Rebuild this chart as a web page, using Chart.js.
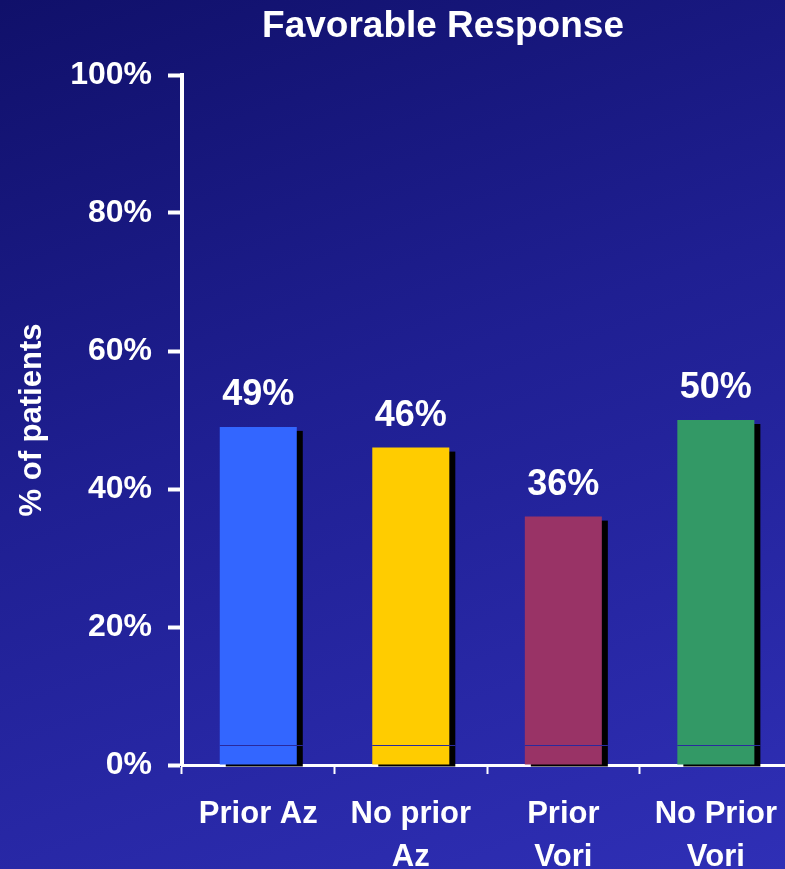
<!DOCTYPE html>
<html>
<head>
<meta charset="utf-8">
<script src="https://cdn.jsdelivr.net/npm/chart.js@4/dist/chart.umd.min.js"></script>
<style>
  html, body { margin: 0; padding: 0; overflow: hidden; }
  body {
    width: 785px; height: 869px;
    background: linear-gradient(160deg, #10106a 0%, #1f1f92 45%, #2f2fb6 100%);
  }
  canvas { display: block; }
</style>
</head>
<body>
<canvas id="myChart" width="796" height="869"></canvas>
<script>
// groups and favorable response rates (%)
const groups = [['Prior Az'], ['No prior', 'Az'], ['Prior', 'Vori'], ['No Prior', 'Vori']];
const favorable = [49, 46, 36, 50];
const yTickValues = [0, 20, 40, 60, 80, 100];
const chartTitle = 'Favorable Response';

const barColors = ['#3366ff', '#ffcc00', '#993366', '#339966'];
const FONT = "'Liberation Sans', Arial, sans-serif";

// title sits a bit right of the canvas centre
const titleText = {
  id: 'titleText',
  afterDraw(chart) {
    const ctx = chart.ctx;
    ctx.save();
    ctx.fillStyle = '#ffffff';
    ctx.font = 'bold 37px ' + FONT;
    ctx.textAlign = 'center';
    ctx.textBaseline = 'alphabetic';
    ctx.fillText(chartTitle, 443, 37);
    ctx.restore();
  }
};

// black drop shadow behind each bar
const barShadow = {
  id: 'barShadow',
  beforeDatasetsDraw(chart) {
    const ctx = chart.ctx;
    const meta = chart.getDatasetMeta(0);
    ctx.save();
    ctx.fillStyle = '#000000';
    meta.data.forEach(bar => {
      ctx.fillRect(bar.x - bar.width / 2 + 6, bar.y + 4, bar.width, bar.base - bar.y - 2);
    });
    ctx.restore();
  }
};

// value labels above bars + thin stripe near the base
const barLabels = {
  id: 'barLabels',
  afterDatasetsDraw(chart) {
    const ctx = chart.ctx;
    const meta = chart.getDatasetMeta(0);
    const yScale = chart.scales.y;
    const stripeY = Math.round(yScale.getPixelForValue(2.9)) + 0.5;
    ctx.save();
    ctx.strokeStyle = '#2a2a9e';
    ctx.lineWidth = 1;
    meta.data.forEach(bar => {
      ctx.beginPath();
      ctx.moveTo(bar.x - bar.width / 2, stripeY);
      ctx.lineTo(bar.x + bar.width / 2 + 6, stripeY);
      ctx.stroke();
    });
    ctx.fillStyle = '#ffffff';
    ctx.font = 'bold 36px ' + FONT;
    ctx.textAlign = 'center';
    ctx.textBaseline = 'alphabetic';
    meta.data.forEach((bar, i) => {
      ctx.fillText(favorable[i] + '%', bar.x, bar.y - 22);
    });
    ctx.restore();
  }
};

let myChart = new Chart(document.getElementById('myChart'), {
  type: 'bar',
  data: {
    labels: groups,
    datasets: [{
      data: favorable,
      backgroundColor: barColors,
      borderWidth: 0,
      barPercentage: 0.505,
      categoryPercentage: 1
    }]
  },
  options: {
    responsive: false,
    animation: false,
    layout: { padding: { left: 0, right: 0, top: 75, bottom: 0 } },
    plugins: {
      legend: { display: false },
      tooltip: { enabled: false },
      title: { display: false }
    },
    scales: {
      x: {
        z: 1,
        grid: {
          offset: true,
          drawOnChartArea: false,
          drawTicks: true,
          tickLength: 9,
          tickWidth: 2,
          tickColor: '#ffffff'
        },
        border: { display: true, color: '#ffffff', width: 3 },
        ticks: {
          color: '#ffffff',
          font: { family: FONT, size: 31, weight: 'bold', lineHeight: 1.38 },
          padding: 19,
          maxRotation: 0,
          autoSkip: false
        },
        afterFit(scale) { scale.height = 104; }
      },
      y: {
        min: 0,
        max: 100,
        afterBuildTicks(scale) { scale.ticks = yTickValues.map(v => ({ value: v })); },
        grid: {
          drawOnChartArea: false,
          drawTicks: true,
          tickLength: 14,
          tickWidth: 4,
          tickColor: '#ffffff'
        },
        border: { display: true, color: '#ffffff', width: 4 },
        ticks: {
          color: '#ffffff',
          font: { family: FONT, size: 32, weight: 'bold' },
          padding: 16,
          callback: v => v + '%'
        },
        title: {
          display: true,
          text: '% of patients',
          color: '#ffffff',
          font: { family: FONT, size: 31, weight: 'bold' },
          padding: { top: 14, bottom: 0 }
        },
        afterFit(scale) { scale.width = 182; }
      }
    }
  },
  plugins: [barShadow, barLabels, titleText]
});
</script>
</body>
</html>
